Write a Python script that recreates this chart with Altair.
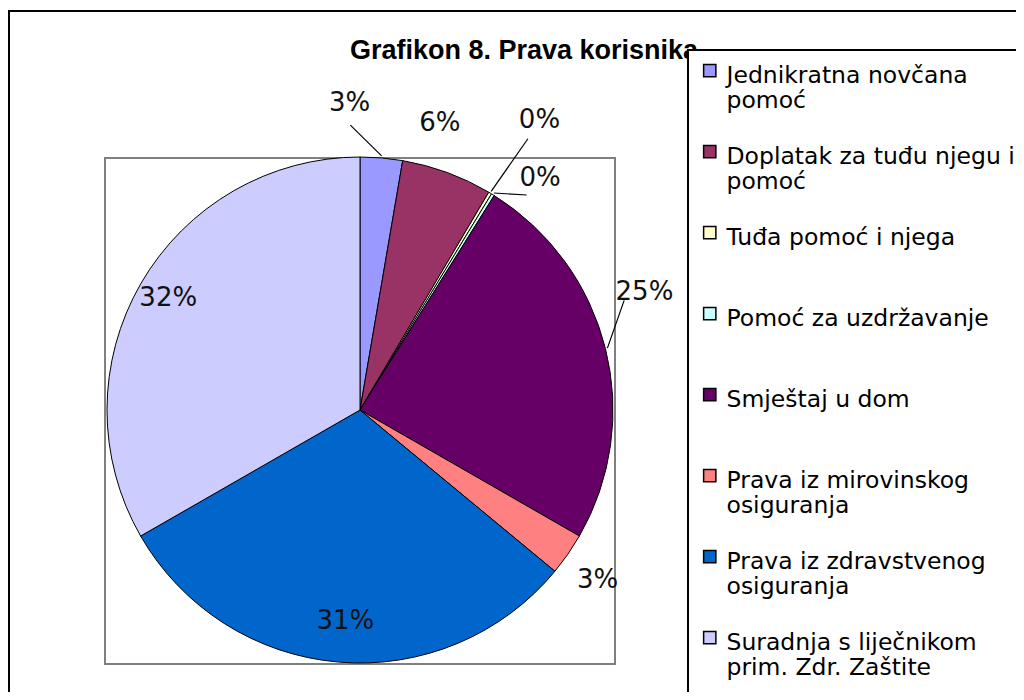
import json
import math
import altair as alt
import pandas as pd

# ---- data ----
categories = [
    "Jednikratna novčana pomoć",
    "Doplatak za tuđu njegu i pomoć",
    "Tuđa pomoć i njega",
    "Pomoć za uzdržavanje",
    "Smještaj u dom",
    "Prava iz mirovinskog osiguranja",
    "Prava iz zdravstvenog osiguranja",
    "Suradnja s liječnikom prim. Zdr. Zaštite",
]
values = [2.7, 5.8, 0.2, 0.2, 24.4, 2.7, 30.7, 33.3]
pct_labels = ["3%", "6%", "0%", "0%", "25%", "3%", "31%", "32%"]
colors = ["#9999FF", "#993366", "#FFFFCC", "#CCFFFF", "#660066", "#FF8080", "#0066CC", "#CCCCFF"]
legend_lines = [
    ["Jednikratna novčana", "pomoć"],
    ["Doplatak za tuđu njegu i", "pomoć"],
    ["Tuđa pomoć i njega", " "],
    ["Pomoć za uzdržavanje", " "],
    ["Smještaj u dom", " "],
    ["Prava iz mirovinskog", "osiguranja"],
    ["Prava iz zdravstvenog", "osiguranja"],
    ["Suradnja s liječnikom", "prim. Zdr. Zaštite"],
]
title_text = "Grafikon 8. Prava korisnika"

# ---- layout (label placement, not data) ----
label_radius = [307, 298, 341, 294, 308, 292, 212, 222]
label_shift_deg = [-6.8, -4.6, 0.8, 6.1, -8.5, 0.8, -0.9, 0.2]
has_leader = [1, 0, 1, 1, 1, 0, 0, 0]

W, H = 1008, 684
CX, CY, R = 352, 402, 253

df = pd.DataFrame({
    "idx": list(range(len(categories))),
    "category": categories,
    "value": values,
    "label": pct_labels,
    "lr": label_radius,
    "shift": label_shift_deg,
    "leader": has_leader,
})

base = alt.Chart(df)

label_map = {c: l for c, l in zip(categories, legend_lines)}
label_expr = json.dumps(label_map, ensure_ascii=False) + "[datum.label]"

one = alt.Data(values=[{"t": title_text}])

outer = alt.Chart(one).mark_rect(fill="white", stroke="black", strokeWidth=2).encode(
    x=alt.value(1), x2=alt.value(W + 20), y=alt.value(3), y2=alt.value(H + 20)
)

plot_area = alt.Chart(one).mark_rect(fill="white", stroke="#808080", strokeWidth=2).encode(
    x=alt.value(97), x2=alt.value(607), y=alt.value(150), y2=alt.value(656)
)

title = alt.Chart(one).mark_text(
    font="Liberation Sans", fontWeight="bold", fontSize=27, color="black",
    align="center", baseline="alphabetic"
).encode(x=alt.value(516), y=alt.value(51), text="t:N")

legend_box = alt.Chart(one).mark_rect(fill="white", stroke="black", strokeWidth=2).encode(
    x=alt.value(680), x2=alt.value(W + 40), y=alt.value(42), y2=alt.value(H + 40)
)

# square symbol shifted down so it sits beside the first label line
symbol_path = "M-1,0.14H1V2.14H-1Z"

pie = base.mark_arc(radius=R, stroke="black", strokeWidth=1).encode(
    theta=alt.Theta("value:Q", stack=True, scale=alt.Scale(range=[0, 2 * math.pi])),
    color=alt.Color(
        "category:N",
        scale=alt.Scale(domain=categories, range=colors),
        legend=alt.Legend(
            title=None, orient="none", legendX=690, legendY=44,
            symbolType=symbol_path, symbolSize=150, symbolStrokeColor="black",
            symbolStrokeWidth=1.5, symbolOpacity=1,
            labelFont="DejaVu Sans", labelFontSize=23.5, labelColor="black",
            labelExpr=label_expr, labelLimit=600, labelBaseline="top",
            labelOffset=5, rowPadding=20, padding=0,
        ),
    ),
    order=alt.Order("idx:Q"),
    x=alt.value(CX), y=alt.value(CY),
)

calc = base.transform_joinaggregate(total="sum(value)").transform_window(
    cum="sum(value)", sort=[alt.SortField("idx")], frame=[None, 0]
).transform_calculate(
    mid="((datum.cum - datum.value/2)/datum.total)*2*PI",
    ang="datum.mid + datum.shift*PI/180",
    lx=f"{CX} + datum.lr*sin(datum.ang)",
    ly=f"{CY} - datum.lr*cos(datum.ang)",
    sx=f"{CX} + {R + 2}*sin(datum.mid)",
    sy=f"{CY} - {R + 2}*cos(datum.mid)",
    ex=f"{CX} + (datum.lr - 22)*sin(datum.ang)",
    ey=f"{CY} - (datum.lr - 22)*cos(datum.ang)",
)

leaders = calc.transform_filter("datum.leader == 1").mark_rule(color="black", strokeWidth=1.2).encode(
    x=alt.X("sx:Q", scale=None), y=alt.Y("sy:Q", scale=None),
    x2="ex:Q", y2="ey:Q",
)

labels = calc.mark_text(
    font="DejaVu Sans", fontSize=26, color="#111111", align="center", baseline="middle"
).encode(
    x=alt.X("lx:Q", scale=None), y=alt.Y("ly:Q", scale=None), text="label:N"
)

chart = alt.layer(outer, plot_area, title, legend_box, pie, leaders, labels).properties(
    width=W, height=H, padding=0, autosize="none"
).configure_view(stroke=None)

chart.save("out.html", embed_options={"renderer": "svg", "actions": False})
